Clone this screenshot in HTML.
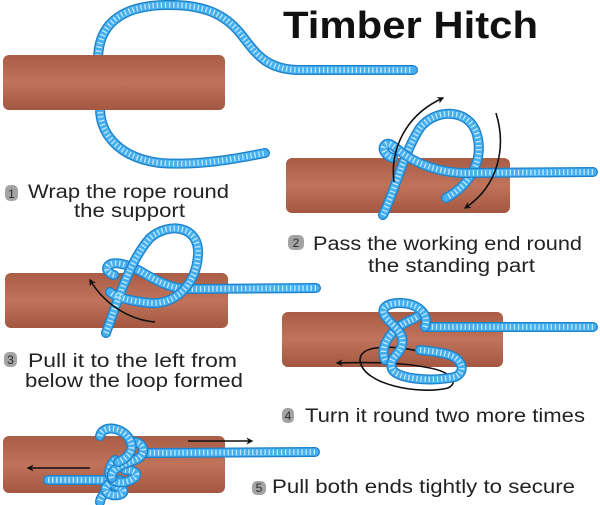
<!DOCTYPE html>
<html><head><meta charset="utf-8"><style>
html,body{margin:0;padding:0;background:#fff;}
svg{display:block;}
.ro{fill:none;stroke:#1f80c8;stroke-width:10;stroke-linecap:round;stroke-linejoin:round;}
.ri{fill:none;stroke:#45aff0;stroke-width:7.5;stroke-linecap:round;stroke-linejoin:round;}
.rs{fill:none;stroke:#c4e9fc;stroke-width:5.5;stroke-dasharray:1.3 2.8;}
.ar{fill:none;stroke:#111;stroke-width:1.6;}
.t{font-family:"Liberation Sans",sans-serif;font-size:19px;fill:#222;}
.b{font-family:"Liberation Sans",sans-serif;font-size:12px;fill:#2a2a2a;text-anchor:middle;}
</style></head><body>
<svg width="600" height="505" viewBox="0 0 600 505" xmlns="http://www.w3.org/2000/svg">
<defs>
<linearGradient id="lg" x1="0" y1="0" x2="0" y2="1">
<stop offset="0" stop-color="#a95d45"/>
<stop offset="0.5" stop-color="#c0735a"/>
<stop offset="1" stop-color="#a45841"/>
</linearGradient>
<marker id="ah" viewBox="0 0 10 10" refX="8" refY="5" markerWidth="7" markerHeight="7" orient="auto" markerUnits="userSpaceOnUse">
<path d="M0,0 L10,5 L0,10 L3,5 z" fill="#111"/>
</marker>
<path id="r1a" d="M 98 60 C 98 25, 120 6, 165 5 C 205 4, 225 15, 240 33 C 255 52, 265 70, 300 70 L 413 70"/>
<path id="r1b" d="M 100 108 C 100 135, 120 158, 160 163 C 200 166, 240 158, 265 153"/>
<path id="r2s" d="M 593 172 L 462 173 C 440 172, 420 165, 405 155 C 395 148, 390 141, 385 145 C 381 149, 386 156, 393 158"/>
<path id="r2w" d="M 383 215 C 395 190, 405 150, 420 128 C 435 108, 470 108, 477 135 C 484 160, 470 185, 446 198"/>
<path id="r3s" d="M 316 288 L 185 289 C 170 288, 155 280, 140 271 C 125 263, 112 261, 108 266 C 105 270, 110 274, 114 275"/>
<path id="r3w" d="M 106 333 C 118 300, 130 260, 150 238 C 168 222, 200 225, 198 255 C 196 285, 175 305, 150 303 C 130 301, 115 297, 110 292"/>
<path id="r4s" d="M 593 327 L 425 327"/>
<path id="r4a" d="M 425 327 C 430 312, 415 303, 400 303 C 387 303, 380 308, 385 316 C 392 326, 405 332, 402 345 C 400 355, 388 358, 392 369 C 397 379, 430 382, 455 377 C 466 372, 463 360, 450 355 C 440 352, 430 351, 420 350"/>
<path id="r4b" d="M 385 360 C 380 348, 388 335, 400 326 C 410 319, 418 319, 420 313"/>
<path id="r5s" d="M 315 452 L 143 453"/>
<path id="r5t" d="M 48 480 L 108 480"/>
<path id="k1" d="M 100 436 C 102 425, 122 426, 130 440 C 135 450, 128 458, 118 462"/>
<path id="k2" d="M 130 442 C 145 440, 148 455, 135 460 C 120 465, 110 470, 112 478"/>
<path id="k3" d="M 115 460 C 105 470, 108 485, 125 482 C 140 478, 140 470, 125 470"/>
<path id="k4" d="M 120 480 C 105 482, 100 492, 112 495 C 125 497, 128 488, 115 486"/>
<path id="k5" d="M 110 486 C 105 492, 100 498, 100 502"/>
</defs>

<!-- Title -->
<text x="283" y="38" font-family="Liberation Sans, sans-serif" font-weight="bold" font-size="38" fill="#111" textLength="255" lengthAdjust="spacingAndGlyphs">Timber Hitch</text>

<!-- Step 1 -->
<use href="#r1a" class="ro"/><use href="#r1a" class="ri"/><use href="#r1a" class="rs"/>
<use href="#r1b" class="ro"/><use href="#r1b" class="ri"/><use href="#r1b" class="rs"/>
<rect x="3" y="55" width="222" height="55" rx="6" fill="url(#lg)"/>

<!-- Step 2 -->
<rect x="286" y="158" width="224" height="55" rx="6" fill="url(#lg)"/>
<use href="#r2w" class="ro"/><use href="#r2w" class="ri"/><use href="#r2w" class="rs"/>
<use href="#r2s" class="ro"/><use href="#r2s" class="ri"/><use href="#r2s" class="rs"/>
<path class="ar" d="M 394 182 C 390 150, 405 115, 443 98" marker-end="url(#ah)"/>
<path class="ar" d="M 496 113 C 506 145, 500 185, 465 208" marker-end="url(#ah)"/>

<!-- Step 3 -->
<rect x="5" y="273" width="223" height="55" rx="6" fill="url(#lg)"/>
<use href="#r3s" class="ro"/><use href="#r3s" class="ri"/><use href="#r3s" class="rs"/>
<use href="#r3w" class="ro"/><use href="#r3w" class="ri"/><use href="#r3w" class="rs"/>
<path class="ar" d="M 155 322 C 130 320, 105 305, 90 280" marker-end="url(#ah)"/>

<!-- Step 4 -->
<rect x="282" y="312" width="221" height="55" rx="6" fill="url(#lg)"/>
<path class="ar" d="M 418 351 C 390 345, 360 345, 360 360 C 362 385, 420 395, 448 388 C 460 382, 450 372, 430 368 C 400 362, 370 362, 337 363" marker-end="url(#ah)"/>
<use href="#r4s" class="ro"/><use href="#r4s" class="ri"/><use href="#r4s" class="rs"/>
<use href="#r4b" class="ro"/><use href="#r4b" class="ri"/><use href="#r4b" class="rs"/>
<use href="#r4a" class="ro"/><use href="#r4a" class="ri"/><use href="#r4a" class="rs"/>

<!-- Step 5 -->
<rect x="3" y="436" width="222" height="57" rx="6" fill="url(#lg)"/>
<use href="#r5s" class="ro"/><use href="#r5s" class="ri"/><use href="#r5s" class="rs"/>
<use href="#r5t" class="ro"/><use href="#r5t" class="ri"/><use href="#r5t" class="rs"/>
<use href="#k5" class="ro"/><use href="#k5" class="ri"/><use href="#k5" class="rs"/>
<use href="#k4" class="ro"/><use href="#k4" class="ri"/><use href="#k4" class="rs"/>
<use href="#k3" class="ro"/><use href="#k3" class="ri"/><use href="#k3" class="rs"/>
<use href="#k2" class="ro"/><use href="#k2" class="ri"/><use href="#k2" class="rs"/>
<use href="#k1" class="ro"/><use href="#k1" class="ri"/><use href="#k1" class="rs"/>
<path class="ar" d="M 188 441 L 252 441" marker-end="url(#ah)"/>
<path class="ar" d="M 90 468 L 28 468" marker-end="url(#ah)"/>

<!-- Labels -->
<rect x="5" y="185" width="13" height="16" rx="5" fill="#a3a3a3"/>
<text x="11.5" y="198" class="b">1</text>
<text x="28" y="198" class="t" textLength="201" lengthAdjust="spacingAndGlyphs">Wrap the rope round</text>
<text x="74" y="217" class="t" textLength="111" lengthAdjust="spacingAndGlyphs">the support</text>

<rect x="288" y="235" width="16" height="15" rx="5" fill="#a3a3a3"/>
<text x="296" y="247" class="b">2</text>
<text x="313" y="250" class="t" textLength="269" lengthAdjust="spacingAndGlyphs">Pass the working end round</text>
<text x="368" y="272" class="t" textLength="167" lengthAdjust="spacingAndGlyphs">the standing part</text>

<rect x="4" y="352" width="13" height="15" rx="5" fill="#a3a3a3"/>
<text x="10.5" y="364" class="b">3</text>
<text x="28" y="367" class="t" textLength="209" lengthAdjust="spacingAndGlyphs">Pull it to the left from</text>
<text x="25" y="387" class="t" textLength="218" lengthAdjust="spacingAndGlyphs">below the loop formed</text>

<rect x="282" y="408" width="12" height="15" rx="5" fill="#a3a3a3"/>
<text x="288" y="420" class="b">4</text>
<text x="305" y="422" class="t" textLength="280" lengthAdjust="spacingAndGlyphs">Turn it round two more times</text>

<rect x="252" y="481" width="14" height="14" rx="5" fill="#a3a3a3"/>
<text x="259" y="492" class="b">5</text>
<text x="272" y="493" class="t" textLength="303" lengthAdjust="spacingAndGlyphs">Pull both ends tightly to secure</text>
</svg>
</body></html>
